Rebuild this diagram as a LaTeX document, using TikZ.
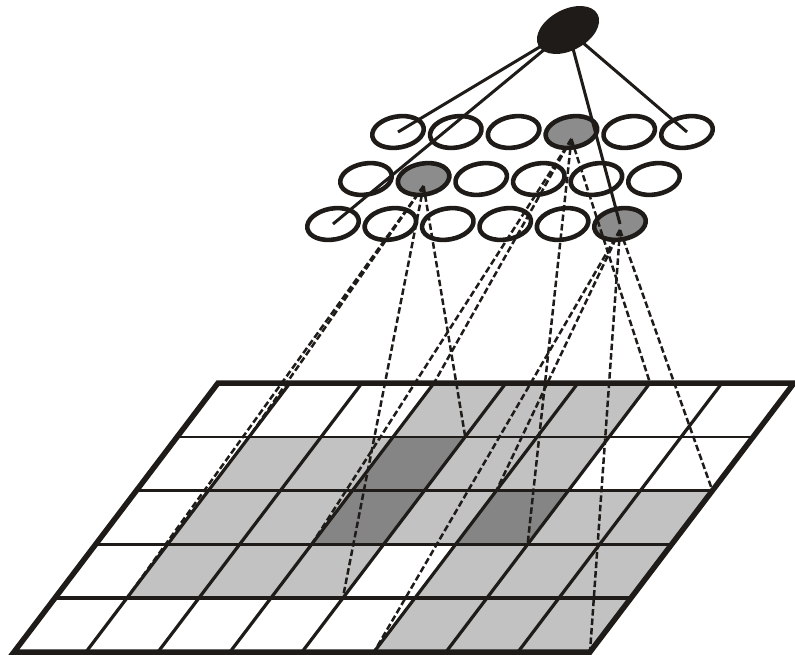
\documentclass[tikz,border=0pt]{standalone}
\usetikzlibrary{shapes.geometric}
\definecolor{ink}{HTML}{1E1B18}
\definecolor{lightcell}{HTML}{C2C2C2}
\definecolor{darkcell}{HTML}{858585}
\definecolor{unitgray}{HTML}{8C8C8C}
\begin{document}
\begin{tikzpicture}[x=1pt,y=-1pt,
  unit/.style={ellipse, draw=ink, line width=4.6pt, minimum width=52pt, minimum height=31pt, inner sep=0pt, rotate=10},
  active/.style={unit, fill=unitgray},
  link/.style={draw=ink, line width=3pt},
  rf/.style={draw=ink, line width=2.5pt, dash pattern=on 6.5pt off 3pt},
  gridline/.style={draw=ink, line width=3.2pt},
  frame/.style={draw=ink, line width=5.5pt, line join=miter},
  apexnode/.style={ellipse, fill=ink, minimum width=67pt, minimum height=41pt, inner sep=0pt, rotate=28}
]
\useasboundingbox (0,0) rectangle (795,655);

% input grid
\begin{scope}[shift={(218,383)}, x={(72pt,0pt)}, y={(-40.8pt,-53.8pt)}]
  \foreach \i in {0,...,8} \foreach \j in {0,...,5} \coordinate (g-\i-\j) at (\i,\j);
  \foreach \i/\j in {3/0,4/0,5/0, 1/1,2/1,4/1,5/1, 1/2,2/2,4/2,6/2,7/2, 1/3,2/3,3/3,5/3,6/3,7/3, 5/4,6/4,7/4}
    \fill[lightcell] (\i,\j) -- ++(1,0) -- ++(0,1) -- ++(-1,0) -- cycle;
  \foreach \i/\j in {3/1,3/2,5/2}
    \fill[darkcell] (\i,\j) -- ++(1,0) -- ++(0,1) -- ++(-1,0) -- cycle;
  \draw[gridline, line width=2.4pt] (0,1) -- (8,1);
  \draw[gridline, line width=3pt] (0,2) -- (8,2);
  \foreach \j in {3,4} \draw[gridline, line width=3.6pt] (0,\j) -- (8,\j);
  \foreach \i in {1,...,7} \draw[gridline] (\i,0) -- (\i,5);
  \draw[frame] (0,0) -- (8,0) -- (8,5) -- (0,5) -- cycle;
\end{scope}

% feature-map units
\foreach \k/\s in {1/unit,2/unit,3/unit,4/active,5/unit,6/unit}
  \node[\s] (a\k) at ({398+57.8*(\k-1)},132) {};
\foreach \k/\s in {1/unit,2/active,3/unit,4/unit,5/unit,6/unit}
  \node[\s] (b\k) at ({366+57.6*(\k-1)},179) {};
\foreach \k/\s in {1/unit,2/unit,3/unit,4/unit,5/unit,6/active}
  \node[\s] (c\k) at ({333+57.4*(\k-1)},224) {};

% apex connections
\coordinate (apex) at (568,30);
\foreach \t in {a1,c1,c6,a6} \draw[link] (apex) -- (\t.center);

% receptive fields
\foreach \t in {g-3-0,g-6-0,g-3-3,g-6-3} \draw[rf] ([yshift=-7pt]a4.center) -- (\t);
\foreach \t in {g-1-1,g-4-1,g-1-4,g-4-4} \draw[rf] ([yshift=-7pt]b2.center) -- (\t);
\foreach \t in {g-5-2,g-8-2,g-5-5,g-8-5} \draw[rf] ([yshift=-6pt]c6.center) -- (\t);

\node[apexnode] (top) at (apex) {};
\end{tikzpicture}
\end{document}
